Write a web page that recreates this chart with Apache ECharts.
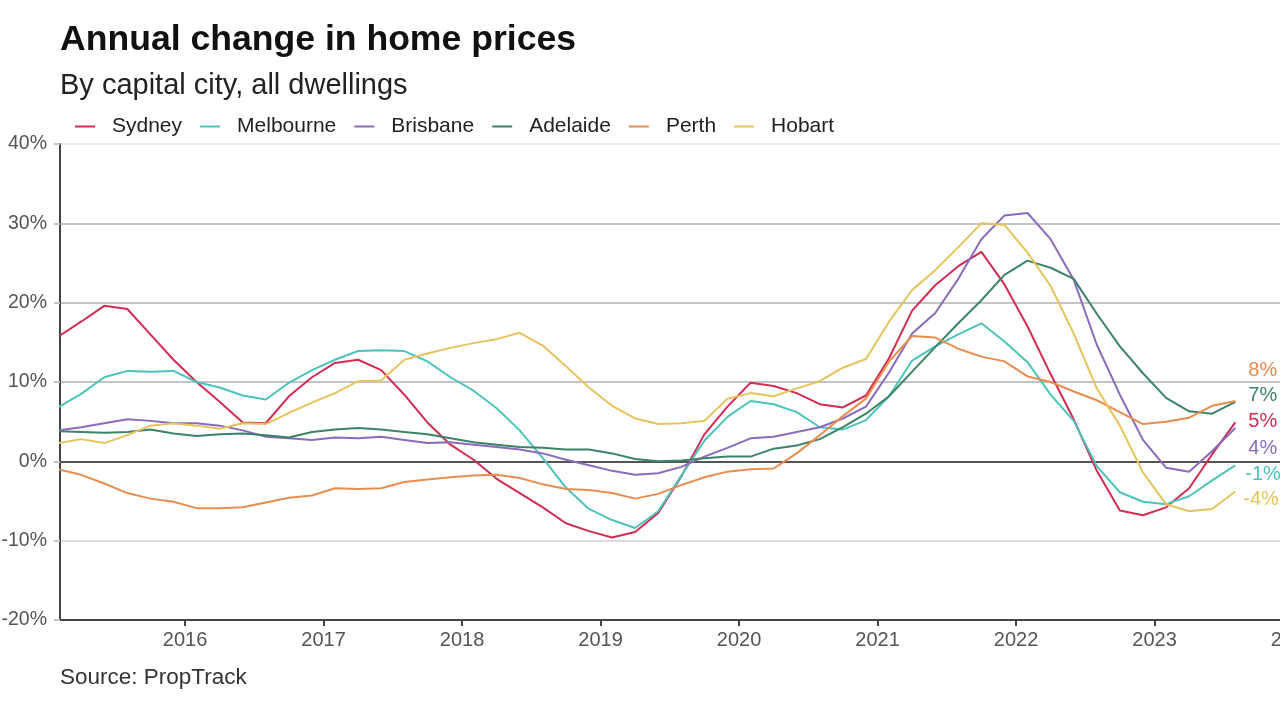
<!DOCTYPE html>
<html>
<head>
<meta charset="utf-8">
<script src="https://cdn.jsdelivr.net/npm/echarts@6/dist/echarts.min.js"></script>
<style>
html,body{margin:0;padding:0;background:#fff;}
#chart{width:1280px;height:720px;}
</style>
</head>
<body>
<div id="chart"></div>
<script>
// ---- data (bimonthly, annual % change) ----
const months = [
 '2015-02','2015-04','2015-06','2015-08','2015-10','2015-12',
 '2016-02','2016-04','2016-06','2016-08','2016-10','2016-12',
 '2017-02','2017-04','2017-06','2017-08','2017-10','2017-12',
 '2018-02','2018-04','2018-06','2018-08','2018-10','2018-12',
 '2019-02','2019-04','2019-06','2019-08','2019-10','2019-12',
 '2020-02','2020-04','2020-06','2020-08','2020-10','2020-12',
 '2021-02','2021-04','2021-06','2021-08','2021-10','2021-12',
 '2022-02','2022-04','2022-06','2022-08','2022-10','2022-12',
 '2023-02','2023-04','2023-06','2023-08'
];
const sydney = [
 15.7,17.6,19.6,19.2,16.0,12.8,
 10.0,7.5,4.9,4.8,8.2,10.6,
 12.4,12.8,11.5,8.4,4.9,2.1,
 0.2,-2.2,-4.0,-5.8,-7.8,-8.8,
 -9.6,-8.9,-6.5,-1.9,3.4,6.9,
 9.9,9.5,8.6,7.2,6.8,8.3,
 13.0,19.0,22.2,24.6,26.4,22.3,
 17.0,11.0,5.3,-1.2,-6.2,-6.8,
 -5.8,-3.4,0.9,4.9
];
const melbourne = [
 6.8,8.5,10.6,11.4,11.3,11.4,
 10.0,9.3,8.3,7.8,9.9,11.5,
 12.8,13.9,14.0,13.9,12.6,10.6,
 8.9,6.7,3.9,0.4,-3.3,-6.0,
 -7.4,-8.4,-6.3,-1.8,2.6,5.6,
 7.6,7.2,6.2,4.3,4.0,5.2,
 8.2,12.7,14.5,16.0,17.4,15.1,
 12.5,8.4,5.1,-0.6,-3.9,-5.1,
 -5.4,-4.4,-2.4,-0.5
];
const brisbane = [
 3.9,4.3,4.8,5.3,5.1,4.8,
 4.8,4.5,3.9,3.1,2.9,2.7,
 3.0,2.9,3.1,2.7,2.3,2.4,
 2.1,1.8,1.5,1.0,0.2,-0.5,
 -1.2,-1.7,-1.5,-0.7,0.6,1.7,
 2.9,3.1,3.7,4.3,5.4,6.9,
 11.2,16.1,18.7,23.0,28.0,31.0,
 31.3,28.0,22.9,14.7,8.4,2.7,
 -0.8,-1.3,1.3,4.2
];
const adelaide = [
 3.8,3.7,3.6,3.7,4.0,3.5,
 3.2,3.4,3.5,3.3,3.0,3.7,
 4.0,4.2,4.0,3.7,3.4,2.9,
 2.4,2.1,1.8,1.7,1.5,1.5,
 1.0,0.3,0.0,0.1,0.4,0.6,
 0.6,1.6,2.0,2.8,4.3,6.0,
 8.2,11.3,14.4,17.4,20.3,23.5,
 25.3,24.4,23.0,18.6,14.5,11.1,
 8.0,6.3,6.0,7.5
];
const perth = [
 -1.0,-1.7,-2.8,-4.0,-4.7,-5.1,
 -5.9,-5.9,-5.8,-5.2,-4.6,-4.3,
 -3.4,-3.5,-3.4,-2.6,-2.3,-2.0,
 -1.8,-1.7,-2.1,-2.9,-3.5,-3.6,
 -4.0,-4.7,-4.1,-3.0,-2.0,-1.3,
 -1.0,-0.9,1.0,3.3,5.7,7.9,
 12.6,15.8,15.6,14.2,13.2,12.6,
 10.7,10.0,8.8,7.7,6.2,4.7,
 5.0,5.5,7.0,7.6
];
const hobart = [
 2.3,2.8,2.3,3.3,4.5,4.8,
 4.5,4.1,4.8,4.7,6.1,7.4,
 8.6,10.1,10.2,12.8,13.6,14.3,
 14.9,15.4,16.2,14.6,12.0,9.3,
 7.0,5.4,4.7,4.8,5.1,7.9,
 8.6,8.2,9.2,10.1,11.8,12.9,
 17.6,21.6,24.1,27.0,30.0,29.8,
 26.3,22.1,16.1,9.2,4.5,-1.4,
 -5.4,-6.3,-6.0,-3.8
];
const cities = ['Sydney','Melbourne','Brisbane','Adelaide','Perth','Hobart'];
const endLabels = ['5%','-1%','4%','7%','8%','-4%'];
const yearTicks = [2016,2017,2018,2019,2020,2021,2022,2023,2024];

// ---- styling ----
const FONT = 'Liberation Sans, Arial, sans-serif';
const colors = ['#d12c51','#4cc3bd','#8a6bbd','#3b8466','#e98d4f','#e6c35c'];
const labelOffsets = [[8,-1],[5,9],[8,20],[8,-6],[8,-31],[3,8]];

function toYear(s){ const p = s.split('-'); return +p[0] + (+p[1]-1)/12; }
const xs = months.map(toYear);
const seriesValues = [sydney, melbourne, brisbane, adelaide, perth, hobart];

const chart = echarts.init(document.getElementById('chart'), null, {renderer:'canvas'});
const series = cities.map((name,i)=>({
  name, type:'line', symbol:'none', smooth:false,
  data: xs.map((x,j)=>[x, seriesValues[i][j]]),
  lineStyle:{width:2, color:colors[i]},
  itemStyle:{color:colors[i]},
  emphasis:{disabled:true},
  endLabel:{show:true, formatter:endLabels[i], color:colors[i], fontSize:20, fontFamily:FONT,
    offset:labelOffsets[i], distance:5},
  z: 3
}));

chart.setOption({
  animation:false,
  backgroundColor:'#fff',
  color: colors,
  title:[
    {text:'Annual change in home prices', left:55, top:17, padding:5,
     textStyle:{fontSize:35.6, fontWeight:'bold', color:'#111', fontFamily:FONT}},
    {text:'By capital city, all dwellings', left:55, top:66, padding:5,
     textStyle:{fontSize:29, fontWeight:'normal', color:'#222', fontFamily:FONT}},
    {text:'Source: PropTrack', left:55, top:661, padding:5,
     textStyle:{fontSize:22.5, fontWeight:'normal', color:'#333', fontFamily:FONT}}
  ],
  legend:{
    data:cities, left:75, top:116, padding:0, icon:'rect', itemWidth:20, itemHeight:2,
    itemGap:18, selectedMode:false,
    textStyle:{fontSize:21, color:'#222', fontFamily:FONT, padding:[0,0,0,12]}
  },
  grid:{left:60, right:-13, top:144, bottom:100, containLabel:false, outerBoundsMode:'none'},
  xAxis:{
    type:'value', min:xs[0]+0.014, max:2024,
    axisLine:{show:true, onZero:false, lineStyle:{color:'#444', width:2}},
    axisTick:{show:true, customValues:yearTicks, length:6, lineStyle:{color:'#444', width:2}},
    axisLabel:{customValues:yearTicks, formatter:v=>String(v), fontSize:20, color:'#555',
      fontFamily:FONT, margin:10},
    splitLine:{show:false}
  },
  yAxis:{
    type:'value', min:-20, max:40, interval:10,
    axisLine:{show:true, lineStyle:{color:'#444', width:2}},
    axisTick:{show:true, length:6, lineStyle:{color:'#c4c4c4', width:2}},
    axisLabel:{formatter:'{value}%', fontSize:19.5, color:'#555', fontFamily:FONT, margin:13},
    splitLine:{show:true, lineStyle:{color:['#444','#dcdcdc','#555','#c4c4c4','#c4c4c4','#c4c4c4','#ececec'], width:2}}
  },
  series
});
</script>
</body>
</html>
